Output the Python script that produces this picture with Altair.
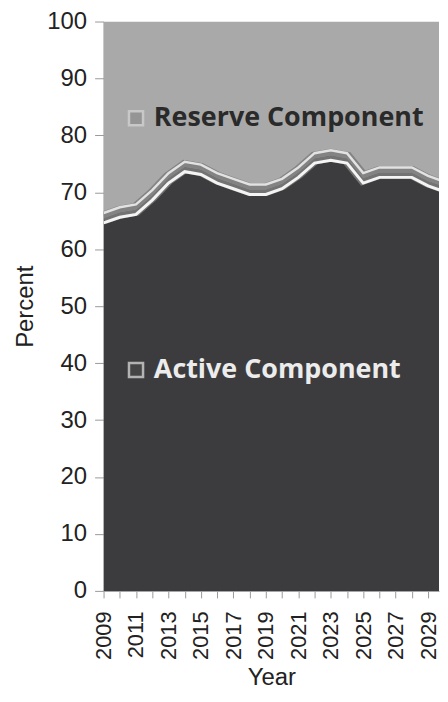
import altair as alt
import pandas as pd

# ---- data ----
years = list(range(2009, 2031))
active_pct = [65.5, 66.5, 67.0, 69.5, 72.5, 74.5, 74.0, 72.5, 71.5, 70.5, 70.5,
              71.5, 73.5, 76.0, 76.5, 76.0, 72.5, 73.5, 73.5, 73.5, 72.0, 71.0]
reserve_pct = [round(100 - a, 1) for a in active_pct]
components = ["Active Component", "Reserve Component"]
comp_colors = ["#3c3c3e", "#a9a9a9"]
tick_years = list(range(2009, 2030))

rows = []
for y, a, r in zip(years, active_pct, reserve_pct):
    rows.append({"year": y, "component": components[0], "pct": a, "ord": 0})
    rows.append({"year": y, "component": components[1], "pct": r, "ord": 1})
long_df = pd.DataFrame(rows)
wide_df = pd.DataFrame({"year": years, "active": active_pct})

labels_df = pd.DataFrame({
    "year": [2012.1, 2012.1],
    "pct": [83.0, 38.8],
    "text": ["Reserve Component", "Active  Component"],
    "component": components[::-1],
})
icons_df = pd.DataFrame({
    "year": [2011.0, 2011.0],
    "pct": [83.0, 38.8],
    "component": components[::-1],
})

xscale = alt.Scale(domain=[2009, 2029.67], nice=False, zero=False)
yscale = alt.Scale(domain=[0, 100], nice=False)

x_axis = alt.Axis(
    values=tick_years,
    labelExpr="datum.value % 2 == 1 ? datum.label : ''",
    labelOverlap=False,
    format="d",
    labelAngle=270,
    labelAlign="right",
    labelBaseline="middle",
    labelFont="Liberation Sans",
    labelFontSize=22,
    labelColor="#222222",
    labelPadding=13,
    tickSize=7,
    tickColor="#999999",
    domainColor="#999999",
    grid=False,
    title="Year",
    titleFont="Liberation Sans",
    titleFontSize=24,
    titleFontWeight="normal",
    titleColor="#222222",
    titlePadding=6,
)
y_axis = alt.Axis(
    values=list(range(0, 101, 10)),
    labelFont="Liberation Sans",
    labelFontSize=24,
    labelColor="#222222",
    labelPadding=8,
    tickSize=9,
    tickColor="#999999",
    domainColor="#999999",
    grid=False,
    title="Percent",
    titleFont="Liberation Sans",
    titleFontSize=24,
    titleFontWeight="normal",
    titleColor="#222222",
    titlePadding=9,
)

area = alt.Chart(long_df).mark_area(clip=True, opacity=1).encode(
    x=alt.X("year:Q", scale=xscale, axis=x_axis),
    y=alt.Y("pct:Q", stack="zero", scale=yscale, axis=y_axis),
    color=alt.Color("component:N", scale=alt.Scale(domain=components, range=comp_colors), legend=None),
    order=alt.Order("ord:Q"),
)

base_line = alt.Chart(wide_df).encode(
    x=alt.X("year:Q", scale=xscale, axis=x_axis),
    y=alt.Y("active:Q", scale=yscale, axis=y_axis),
)
band = base_line.mark_line(clip=True, color="#7c7c7c", strokeWidth=13, opacity=0.85)
hi_low = base_line.mark_line(clip=True, color="#f4f4f4", strokeWidth=3, yOffset=5)
hi_up = base_line.mark_line(clip=True, color="#e2e2e2", strokeWidth=2.5, yOffset=-5)

icons = alt.Chart(icons_df).mark_square(size=200, strokeWidth=2.5).encode(
    x=alt.X("year:Q", scale=xscale, axis=x_axis),
    y=alt.Y("pct:Q", scale=yscale, axis=y_axis),
    fill=alt.Fill("component:N", scale=alt.Scale(domain=components, range=["#4a4a4a", "#8d8d8d"]), legend=None),
    stroke=alt.Stroke("component:N", scale=alt.Scale(domain=components, range=["#e6e6e6", "#d6d6d6"]), legend=None),
)

texts = alt.Chart(labels_df).mark_text(
    align="left", baseline="middle", font="Open Sans", fontSize=27, fontWeight="bold"
).encode(
    x=alt.X("year:Q", scale=xscale, axis=x_axis),
    y=alt.Y("pct:Q", scale=yscale, axis=y_axis),
    text="text:N",
    color=alt.Color("component:N", scale=alt.Scale(domain=components, range=["#ececec", "#2a2a2a"]), legend=None),
)

chart = alt.layer(area, band, hi_low, hi_up, icons, texts).resolve_scale(
    color="independent", fill="independent", stroke="independent"
).properties(
    width=337, height=572, background="white",
    padding={"left": 5, "top": 0, "right": 0, "bottom": 0},
).configure_view(strokeWidth=0).configure_axis(labelOverlap=False)

chart.save("out.html", embed_options={"renderer": "svg", "actions": False})
